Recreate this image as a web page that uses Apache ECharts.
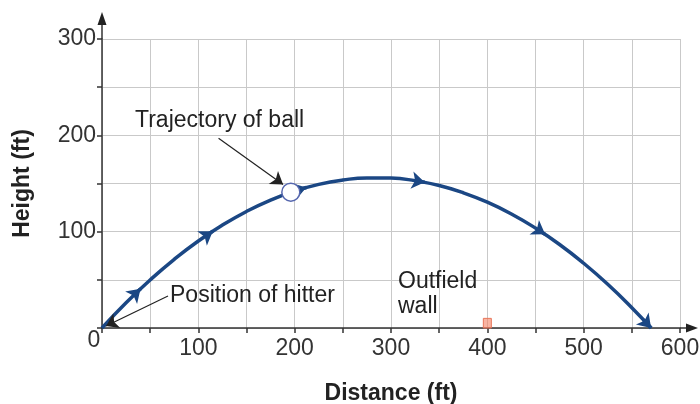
<!DOCTYPE html>
<html><head><meta charset="utf-8">
<script src="https://cdn.jsdelivr.net/npm/echarts@6/dist/echarts.min.js"></script>
<style>html,body{margin:0;padding:0;background:#fff}#c{width:700px;height:404px}</style>
</head><body><div id="c"></div>
<script>
// Trajectory (distance ft, height ft)
const distance = [0, 25, 50, 75, 100, 125, 150, 175, 200, 225, 250, 275, 300, 325, 350, 375, 400, 425, 450, 475, 500, 525, 550, 570];
const height   = [0, 26.2, 49.9, 71.3, 90.3, 106.8, 121.0, 132.8, 142.1, 149.1, 153.6, 155.8, 155.6, 152.9, 147.9, 140.4, 130.6, 118.4, 103.7, 86.7, 67.2, 45.4, 21.1, 0];
// Direction arrowheads on the curve: tail point and tip point
const arrowTails = [[32, 33.1], [107, 95.1], [204, 143.4], [327, 152.6], [452, 102.4], [562, 8.6]];
const arrowHeads = [[40, 40.7], [115, 100.5], [212, 145.8], [335, 151.2], [460, 97.2], [570, 0]];
// Ball position
const ball = [196, 141];
// Outfield wall
const wallDistance = 400;
const wallHeight = 10;
// Annotation pointers [from, to]
const trajPointer = [[121, 197], [188, 149]];
const hitterPointer = [[68.5, 33.2], [4.2, 2.1]];
// Axis labels
const xLabels = [100, 200, 300, 400, 500, 600];
const yLabels = [100, 200, 300];

const FONT = 'Liberation Sans, Arial, sans-serif';
const FS = 23;
const navy = '#1b4784';

const chart = echarts.init(document.getElementById('c'));
const option = {
  animation: false,
  backgroundColor: '#fff',
  grid: { left: 102, right: 20, top: 39, bottom: 76, containLabel: false, outerBoundsMode: 'none' },
  xAxis: {
    type: 'value', min: 0, max: 600, interval: 50,
    name: 'Distance (ft)', nameLocation: 'middle', nameGap: 54,
    nameTextStyle: { fontFamily: FONT, fontSize: FS, fontWeight: 'bold', color: '#222' },
    axisLine: { show: true, onZero: true, lineStyle: { color: '#333', width: 1.5 } },
    axisTick: { show: true, length: 5, lineStyle: { color: '#333', width: 1.5 } },
    axisLabel: {
      fontFamily: FONT, fontSize: FS, color: '#333', margin: 9,
      formatter: v => xLabels.indexOf(v) >= 0 ? String(v) : ''
    },
    splitLine: { show: true, lineStyle: { color: '#c9c9c9', width: 1 } }
  },
  yAxis: {
    type: 'value', min: 0, max: 300, interval: 50,
    name: 'Height (ft)', nameLocation: 'middle', nameGap: 68, nameRotate: 90,
    nameTextStyle: { fontFamily: FONT, fontSize: FS, fontWeight: 'bold', color: '#222' },
    axisLine: { show: true, lineStyle: { color: '#333', width: 1.5 } },
    axisTick: { show: true, length: 5, lineStyle: { color: '#333', width: 1.5 } },
    axisLabel: {
      fontFamily: FONT, fontSize: FS, color: '#333', margin: 6,
      formatter: v => yLabels.indexOf(v) >= 0 ? String(v) : ''
    },
    splitLine: { show: true, lineStyle: { color: '#c9c9c9', width: 1 } }
  },
  series: [
    {
      type: 'custom', name: 'wall', z: 3,
      data: [[wallDistance, wallHeight]],
      renderItem: (params, api) => {
        const top = api.coord([api.value(0), api.value(1)]);
        const base = api.coord([api.value(0), 0]);
        return { type: 'rect', shape: { x: top[0] - 4, y: top[1], width: 8, height: base[1] - top[1] },
          style: { fill: 'rgba(245,130,100,0.6)', stroke: '#e8755a', lineWidth: 1 } };
      }
    },
    {
      type: 'line', name: 'trajectory', smooth: true, showSymbol: false, z: 4,
      data: distance.map((d, i) => [d, height[i]]),
      lineStyle: { color: navy, width: 3.5 }
    },
    {
      type: 'lines', coordinateSystem: 'cartesian2d', z: 5,
      symbol: ['none', 'arrow'], symbolSize: 13,
      lineStyle: { color: navy, width: 3.5, opacity: 1 },
      data: arrowTails.map((t, i) => ({ coords: [t, arrowHeads[i]] }))
    },
    {
      type: 'lines', coordinateSystem: 'cartesian2d', z: 6,
      symbol: ['none', 'arrow'], symbolSize: 12,
      lineStyle: { color: '#222', width: 1.2, opacity: 1 },
      data: [{ coords: trajPointer }, { coords: hitterPointer }]
    },
    {
      type: 'scatter', z: 7, symbol: 'circle', symbolSize: 18,
      data: [ball],
      itemStyle: { color: '#fff', borderColor: '#5667ae', borderWidth: 1.5, opacity: 1 }
    }
  ]
};
chart.setOption(option);

const o = chart.convertToPixel({ gridIndex: 0 }, [0, 0]);
const xe = chart.convertToPixel({ gridIndex: 0 }, [600, 0]);
const ye = chart.convertToPixel({ gridIndex: 0 }, [0, 300]);
const txt = (x, y, s) => ({ type: 'text', x: x, y: y, z: 20,
  style: { text: s, fontFamily: FONT, fontSize: FS, fill: '#222', textVerticalAlign: 'middle' } });
chart.setOption({
  graphic: [
    { type: 'line', z: 10, shape: { x1: xe[0], y1: xe[1], x2: 690, y2: xe[1] }, style: { stroke: '#333', lineWidth: 1.5 } },
    { type: 'polygon', z: 10, shape: { points: [[698, xe[1]], [686, xe[1] - 4.5], [686, xe[1] + 4.5]] }, style: { fill: '#222' } },
    { type: 'line', z: 10, shape: { x1: ye[0], y1: ye[1], x2: ye[0], y2: 20 }, style: { stroke: '#333', lineWidth: 1.5 } },
    { type: 'polygon', z: 10, shape: { points: [[ye[0], 12], [ye[0] - 4.5, 25], [ye[0] + 4.5, 25]] }, style: { fill: '#222' } },
    { type: 'text', x: o[0] - 8, y: o[1] + 13, z: 20,
      style: { text: '0', fontFamily: FONT, fontSize: FS, fill: '#333', textAlign: 'center', textVerticalAlign: 'middle' } },
    txt(135, 121, 'Trajectory of ball'),
    txt(170, 296, 'Position of hitter'),
    txt(398, 282, 'Outfield'),
    txt(398, 307, 'wall')
  ]
});
</script></body></html>
